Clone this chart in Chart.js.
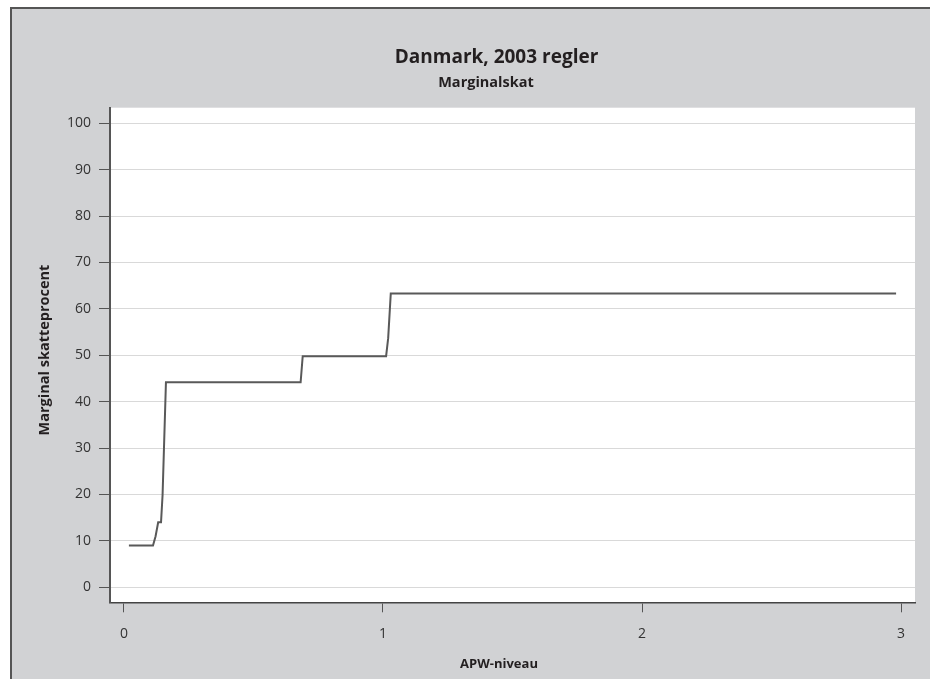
<!DOCTYPE html>
<html>
<head>
<meta charset="utf-8">
<script src="https://cdn.jsdelivr.net/npm/chart.js@4/dist/chart.umd.min.js"></script>
<style>
  html, body { margin: 0; padding: 0; background: #fff; width: 930px; height: 679px; overflow: hidden; }
  #frame { position: absolute; left: 10px; top: 7px; right: -5px; bottom: -10px;
           background: #d1d2d4; border-left: 2px solid #555; border-top: 2px solid #555; }
  #wrap { position: absolute; left: 0; top: 0; width: 930px; height: 679px; }
</style>
</head>
<body>
<div id="frame"></div>
<div id="wrap"><canvas id="chart"></canvas></div>
<script>
// APW level (x) and marginal tax rate in percent (y)
const apwLevel     = [0.019, 0.112, 0.122, 0.132, 0.143, 0.149, 0.162, 0.682, 0.690, 1.012, 1.020, 1.030, 2.981];
const marginalRate = [9.0,   9.0,   11.0,  14.0,  14.0,  19.9,  44.2,  44.2,  49.8,  49.8,  53.7,  63.3,  63.3];
const xTicks = [0, 1, 2, 3];
const yTicks = [0, 10, 20, 30, 40, 50, 60, 70, 80, 90, 100];

const chartTitle = 'Danmark, 2003 regler';
const chartSubtitle = 'Marginalskat';
const xTitle = 'APW-niveau';
const yTitle = 'Marginal skatteprocent';

const points = apwLevel.map((x, i) => ({ x: x, y: marginalRate[i] }));

const plotBackground = {
  id: 'plotBackground',
  beforeDraw(chart) {
    const a = chart.chartArea;
    const ctx = chart.ctx;
    ctx.save();
    ctx.fillStyle = '#ffffff';
    ctx.fillRect(a.left, a.top, a.right - a.left, a.bottom - a.top);
    ctx.restore();
  }
};

const titles = {
  id: 'titles',
  afterDraw(chart) {
    const ctx = chart.ctx;
    ctx.save();
    ctx.fillStyle = '#231f20';
    ctx.textAlign = 'center';
    ctx.textBaseline = 'middle';
    ctx.font = 'bold 19px "Open Sans"';
    ctx.fillText(chartTitle, 496.5, 58);
    ctx.font = 'bold 14.5px "Open Sans"';
    ctx.fillText(chartSubtitle, 486, 82.5);
    ctx.font = 'bold 13px "Open Sans"';
    ctx.fillText(xTitle, 499, 664);
    ctx.font = 'bold 14.5px "Open Sans"';
    ctx.translate(45, 350);
    ctx.rotate(-Math.PI / 2);
    ctx.fillText(yTitle, 0, 0);
    ctx.restore();
  }
};

new Chart(document.getElementById('chart'), {
  type: 'line',
  data: {
    datasets: [{
      data: points,
      borderColor: '#595959',
      borderWidth: 2,
      pointRadius: 0,
      tension: 0,
      fill: false
    }]
  },
  options: {
    responsive: true,
    maintainAspectRatio: false,
    animation: false,
    layout: { padding: { left: 0, right: 15, top: 107.7, bottom: 0 } },
    plugins: {
      legend: { display: false },
      tooltip: { enabled: false },
      title: { display: false }
    },
    scales: {
      x: {
        type: 'linear',
        min: -0.054,
        max: 3.054,
        afterFit: (s) => { s.height = 76.7; },
        afterBuildTicks: (s) => { s.ticks = xTicks.map(v => ({ value: v })); },
        ticks: { includeBounds: false, stepSize: 1, padding: 13, color: '#333', font: { family: 'Open Sans', size: 14 } },
        grid: { drawOnChartArea: false, drawTicks: true, tickLength: 10, tickColor: '#555', tickWidth: 1 },
        border: { display: true, color: '#444', width: 1.5 }
      },
      y: {
        min: -3.23,
        max: 103.36,
        afterFit: (s) => { s.width = 110; },
        afterBuildTicks: (s) => { s.ticks = yTicks.map(v => ({ value: v })); },
        ticks: { includeBounds: false, stepSize: 10, padding: 8, color: '#333', font: { family: 'Open Sans', size: 14 } },
        grid: { color: '#d9d9d9', lineWidth: 1, drawTicks: true, tickLength: 11, tickColor: '#555', tickWidth: 1 },
        border: { display: true, color: '#555', width: 2 }
      }
    }
  },
  plugins: [plotBackground, titles]
});
</script>
</body>
</html>
